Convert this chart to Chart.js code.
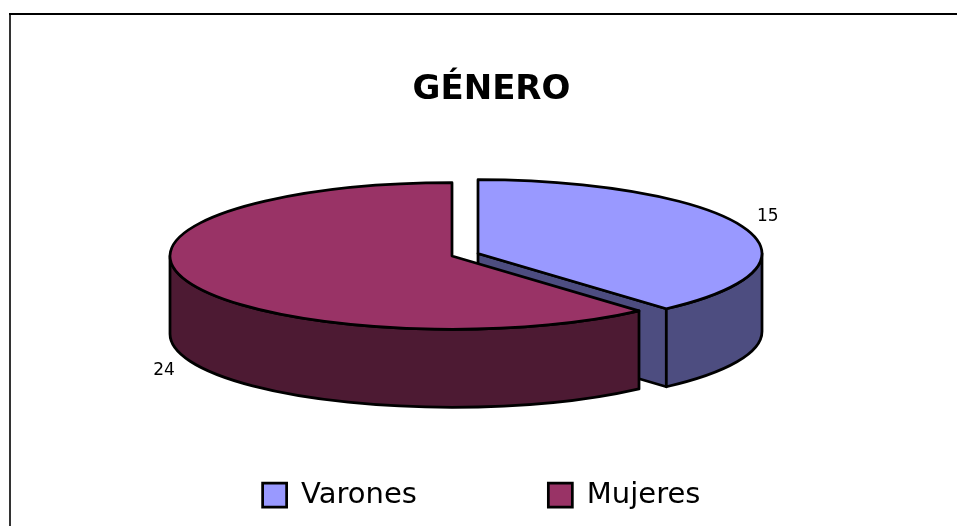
<!DOCTYPE html>
<html><head><meta charset="utf-8">
<style>html,body{margin:0;padding:0;background:#fff;overflow:hidden}#w{width:957px;height:526px}</style>
<script src="https://cdn.jsdelivr.net/npm/chart.js@4"></script>
</head><body><div id="w"><canvas id="c" width="957" height="526"></canvas></div>
<script>
const categories = ['Varones', 'Mujeres'];
const values = [15, 24];
const topColors = ['#9999FF', '#993366'];
const wallColors = ['#4D4D80', '#4D1A33'];
const titleText = 'GÉNERO';

const FONT = '"Comic Sans MS", "DejaVu Sans", sans-serif';
const center = [452, 256];
const squash = 0.26;
const depth = 78;
const explode = [[26, -2.5], [0, 0]];
const radii = [284, 282];
const outline = 2.75;

function Y(v) { return v * squash; }

function wallPath(ctx, a, from, to) {
  const x = a.x, y = Y(a.y), r = a.outerRadius, ry = r * squash;
  ctx.beginPath();
  ctx.ellipse(x, y, r, ry, 0, from, to);
  ctx.lineTo(x + r * Math.cos(to), y + ry * Math.sin(to) + depth);
  ctx.ellipse(x, y + depth, r, ry, 0, to, from, true);
  ctx.closePath();
}

const pie3d = {
  id: 'pie3d',
  afterLayout(chart) {
    const lg = chart.legend;
    lg.left -= 20;
    lg.top = 480.5 - chart.options.plugins.legend.labels.padding;
    lg.bottom = lg.top + lg.height;
  },
  afterDatasetsUpdate(chart) {
    chart.getDatasetMeta(0).data.forEach((a, i) => {
      a.x = center[0] + explode[i][0];
      a.y = (center[1] + explode[i][1]) / squash;
      a.outerRadius = radii[i];
    });
  },
  beforeDraw(chart) {
    const ctx = chart.ctx;
    ctx.save();
    ctx.fillStyle = '#fff';
    ctx.fillRect(0, 0, chart.width, chart.height);
    ctx.lineWidth = 2;
    ctx.beginPath();
    ctx.moveTo(10, chart.height);
    ctx.lineTo(10, 14);
    ctx.strokeStyle = '#333';
    ctx.stroke();
    ctx.beginPath();
    ctx.moveTo(9, 14);
    ctx.lineTo(chart.width, 14);
    ctx.strokeStyle = '#000';
    ctx.stroke();
    ctx.restore();
  },
  beforeDatasetsDraw(chart) {
    const ctx = chart.ctx;
    const arcs = chart.getDatasetMeta(0).data;
    ctx.save();
    ctx.lineWidth = outline;
    ctx.strokeStyle = '#000';
    ctx.lineJoin = 'round';
    arcs.forEach((a, i) => {
      ctx.fillStyle = wallColors[i];
      const s = a.startAngle, e = a.endAngle;
      const x = a.x, y = Y(a.y), r = a.outerRadius, ry = r * squash;
      const faces = [];
      if (-Math.cos(s) > 0) faces.push(s);
      if (Math.cos(e) > 0) faces.push(e);
      faces.forEach(t => {
        ctx.beginPath();
        ctx.moveTo(x, y);
        ctx.lineTo(x + r * Math.cos(t), y + ry * Math.sin(t));
        ctx.lineTo(x + r * Math.cos(t), y + ry * Math.sin(t) + depth);
        ctx.lineTo(x, y + depth);
        ctx.closePath();
        ctx.fill();
        ctx.stroke();
      });
      const from = Math.max(s, 0), to = Math.min(e, Math.PI);
      if (to > from) {
        wallPath(ctx, a, from, to);
        ctx.fill();
        ctx.stroke();
      }
    });
    ctx.restore();
    ctx.save();
    ctx.scale(1, squash);
  },
  afterDatasetsDraw(chart) {
    const ctx = chart.ctx;
    ctx.restore();
    const arcs = chart.getDatasetMeta(0).data;
    ctx.save();
    ctx.lineWidth = outline;
    ctx.strokeStyle = '#000';
    ctx.lineJoin = 'round';
    arcs.forEach(a => {
      ctx.beginPath();
      ctx.moveTo(a.x, Y(a.y));
      ctx.ellipse(a.x, Y(a.y), a.outerRadius, a.outerRadius * squash, 0, a.startAngle, a.endAngle);
      ctx.closePath();
      ctx.stroke();
    });
    ctx.fillStyle = '#000';
    ctx.font = '17px ' + FONT;
    ctx.textAlign = 'center';
    ctx.textBaseline = 'middle';
    arcs.forEach((a, i) => {
      const m = (a.startAngle + a.endAngle) / 2;
      const rr = a.outerRadius + 26;
      const lx = a.x + rr * Math.cos(m);
      const ly = Y(a.y) + a.outerRadius * squash * Math.sin(m) + 30.5 * Math.sin(m) + (Math.sin(m) > 0 ? depth : 0);
      ctx.fillText(String(values[i]), lx, ly);
    });
    ctx.restore();
  }
};

new Chart(document.getElementById('c'), {
  type: 'pie',
  data: {
    labels: categories,
    datasets: [{
      data: values,
      backgroundColor: topColors,
      borderWidth: 0,
      radius: 282,
      clip: false
    }]
  },
  plugins: [pie3d],
  options: {
    responsive: false,
    animation: false,
    radius: 282,
    layout: { padding: { left: 26 } },
    plugins: {
      tooltip: { enabled: false },
      title: {
        display: true,
        text: titleText,
        color: '#000',
        font: { family: FONT, size: 34, weight: 'bold' },
        padding: { top: 70, bottom: 10 }
      },
      legend: {
        position: 'bottom',
        labels: {
          color: '#000',
          boxWidth: 24,
          boxHeight: 24,
          padding: 131.5,
          font: { family: FONT, size: 29 },
          generateLabels(chart) {
            return Chart.overrides.pie.plugins.legend.labels.generateLabels(chart).map(l => {
              l.lineWidth = 2.75;
              l.strokeStyle = '#000';
              return l;
            });
          }
        }
      }
    }
  }
});
</script></body></html>
